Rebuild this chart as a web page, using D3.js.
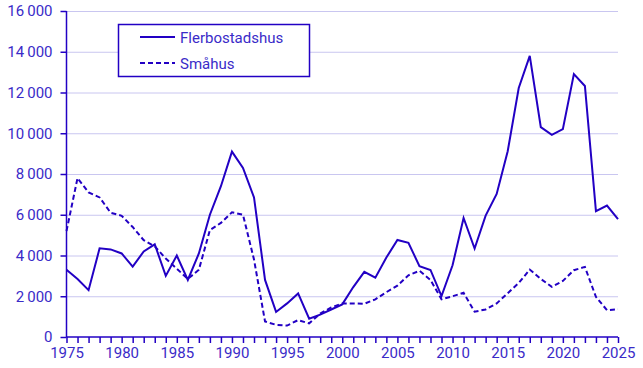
<!DOCTYPE html>
<html><head><meta charset="utf-8">
<script src="https://cdn.jsdelivr.net/npm/d3@7"></script>
<style>body{margin:0;background:#fff}svg{display:block}</style>
</head><body>
<svg id="c" width="643" height="368"></svg>
<script>
const years = d3.range(1975, 2026);
const flerbostadshus = [3300,2850,2300,4350,4300,4100,3450,4200,4550,3000,4000,2800,4100,6000,7400,9100,8300,6850,2800,1230,1650,2140,900,1100,1350,1600,2450,3200,2910,3900,4760,4620,3480,3290,2010,3520,5840,4340,5960,7020,9120,12220,13800,10300,9920,10200,12900,12320,6180,6450,5790];
const smahus = [5200,7800,7100,6850,6100,5950,5400,4750,4450,3850,3350,2850,3300,5250,5600,6120,6000,3800,760,600,560,830,670,1150,1450,1650,1650,1630,1850,2200,2520,3030,3250,2800,1850,2000,2170,1240,1350,1650,2150,2650,3310,2850,2460,2750,3280,3440,1970,1320,1360];
const yTicks = [0,2000,4000,6000,8000,10000,12000,14000,16000];
const xTicks = [1975,1980,1985,1990,1995,2000,2005,2010,2015,2020,2025];
const seriesNames = ["Flerbostadshus","Småhus"];

const lineCol = "#2200c4", textCol = "#3a2bc8", gridCol = "#c9c6f0";
const svg = d3.select("#c");
const font = "Roboto, 'Liberation Sans', sans-serif";
const x = d3.scaleLinear().domain([1975,2025]).range([66.5,618]);
const y = d3.scaleLinear().domain([0,16000]).range([337,11]);

// grid
svg.append("g").selectAll("line").data(yTicks.filter(d=>d>0)).join("line")
  .attr("x1",66.5).attr("x2",618).attr("y1",d=>y(d)+0.5).attr("y2",d=>y(d)+0.5)
  .attr("stroke",gridCol).attr("stroke-width",1);

// y axis
const ya = svg.append("g").attr("transform","translate(66.5,0)")
  .call(d3.axisLeft(y).tickValues(yTicks).tickSize(6).tickPadding(8)
    .tickFormat(d=>d3.format(",")(d).replace(/,/g,"\u2009")));
ya.select(".domain").attr("stroke",lineCol).attr("stroke-width",1.5).attr("d","M0,337V11");
ya.selectAll(".tick line").attr("stroke",lineCol).attr("stroke-width",1.5);
ya.selectAll("text").attr("fill",textCol).style("font-family",font).style("font-size","15px");

// x axis
const xa = svg.append("g").attr("transform","translate(0,337)")
  .call(d3.axisBottom(x).tickValues(years).tickSize(6).tickPadding(4)
    .tickFormat(d=>xTicks.includes(d)?String(d):""));
xa.select(".domain").attr("stroke",lineCol).attr("stroke-width",1.5).attr("d","M66.5,0H618");
xa.selectAll(".tick line").attr("stroke",lineCol).attr("stroke-width",1.5);
xa.selectAll("text").attr("fill",textCol).style("font-family",font).style("font-size","15px");

const line = d3.line().x((d,i)=>x(years[i])).y(d=>y(d));
svg.append("path").datum(flerbostadshus).attr("d",line).attr("fill","none")
  .attr("stroke",lineCol).attr("stroke-width",2).attr("stroke-linejoin","miter");
svg.append("path").datum(smahus).attr("d",line).attr("fill","none")
  .attr("stroke",lineCol).attr("stroke-width",2).attr("stroke-dasharray","5,3");

// legend
const lg = svg.append("g");
lg.append("rect").attr("x",118.5).attr("y",24.5).attr("width",191).attr("height",52)
  .attr("fill","#fff").attr("stroke",lineCol).attr("stroke-width",1.5);
seriesNames.forEach((n,i)=>{
  const yy = 37 + i*26;
  lg.append("line").attr("x1",140).attr("x2",175).attr("y1",yy).attr("y2",yy)
    .attr("stroke",lineCol).attr("stroke-width",2).attr("stroke-dasharray",i?"5,3":null);
  lg.append("text").attr("x",180).attr("y",yy+5.5).text(n).attr("fill",textCol)
    .style("font-family",font).style("font-size","15px");
});
</script>
</body></html>
